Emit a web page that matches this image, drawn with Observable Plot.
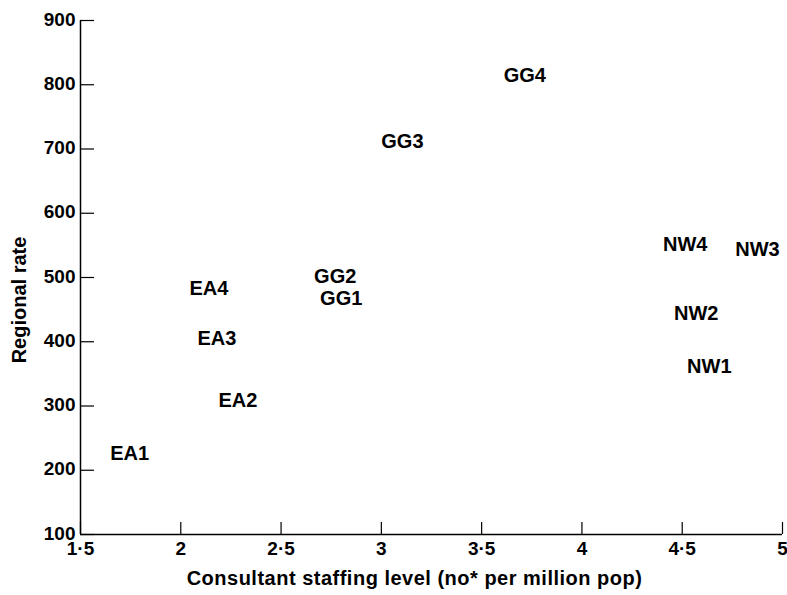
<!DOCTYPE html>
<html>
<head>
<meta charset="utf-8">
<script src="https://cdn.jsdelivr.net/npm/d3@7"></script>
<script src="https://cdn.jsdelivr.net/npm/@observablehq/plot@0.6"></script>
<style>
  body { margin: 0; background: #fff; }
</style>
</head>
<body>
<div id="chart"></div>
<script>
const regions = ["EA1", "EA2", "EA3", "EA4", "GG1", "GG2", "GG3", "GG4", "NW1", "NW2", "NW3", "NW4"];
const staffing = [1.745, 2.285, 2.18, 2.14, 2.8, 2.77, 3.105, 3.715, 4.635, 4.57, 4.875, 4.515];
const regionalRate = [226, 308, 405, 483, 467, 501, 711, 815, 361, 444, 543, 551];
const xTicks = [1.5, 2, 2.5, 3, 3.5, 4, 4.5, 5];
const yTicks = [100, 200, 300, 400, 500, 600, 700, 800, 900];
const xLabel = "Consultant staffing level (no* per million pop)";
const yLabel = "Regional rate";

const data = regions.map((r, i) => ({region: r, x: staffing[i], y: regionalRate[i]}));
const fmt = d => String(d).replace(".", "·");

const chart = Plot.plot({
  width: 787,
  height: 595,
  marginLeft: 80,
  marginRight: 5,
  marginTop: 20,
  marginBottom: 61,
  style: {fontFamily: "'Liberation Sans', Arial, sans-serif", fontSize: "18px", fontWeight: "bold", color: "#000", background: "#fff"},
  x: {domain: [1.5, 5]},
  y: {domain: [100, 900]},
  marks: [
    Plot.ruleY([100], {stroke: "#000", strokeWidth: 1.5}),
    Plot.ruleX([1.5], {stroke: "#000", strokeWidth: 1.5}),
    Plot.axisX({ticks: xTicks, tickSize: -12, tickFormat: () => "", label: null, strokeWidth: 1.2}),
    Plot.axisY({ticks: yTicks, tickSize: -14, tickFormat: () => "", label: null, strokeWidth: 1.2}),
    Plot.axisX({ticks: xTicks, tickSize: 0, tickPadding: 7, tickFormat: fmt, fill: "#000", label: null, className: "xtick"}),
    Plot.axisY({ticks: yTicks, tickSize: 0, tickPadding: 5, dy: -1, tickFormat: d => String(d), fill: "#000", label: null, className: "ytick"}),
    Plot.text([xLabel], {frameAnchor: "bottom", dx: -17, dy: 50, fontSize: 20, fontWeight: "bold", fill: "#000", className: "xlab"}),
    Plot.text([yLabel], {frameAnchor: "left", textAnchor: "middle", rotate: -90, fontSize: 20, fontWeight: "bold", fill: "#000", className: "ylab"}),
    Plot.text(data, {x: "x", y: "y", text: "region", fontSize: 20, fontWeight: "bold", fill: "#000"})
  ]
});
const svg = d3.select(chart);
// tick label size
svg.selectAll("g[aria-label='x-axis tick label'] text, g[aria-label='y-axis tick label'] text, g.xtick text, g.ytick text")
  .style("font-size", "19px").style("font-weight", "bold");
// position the rotated y title at its place in the margin
svg.selectAll("g.ylab").attr("transform", "translate(-60,23)");
svg.selectAll("g.xlab text").style("letter-spacing", "0.5px");
document.getElementById("chart").append(chart);
</script>
</body>
</html>
